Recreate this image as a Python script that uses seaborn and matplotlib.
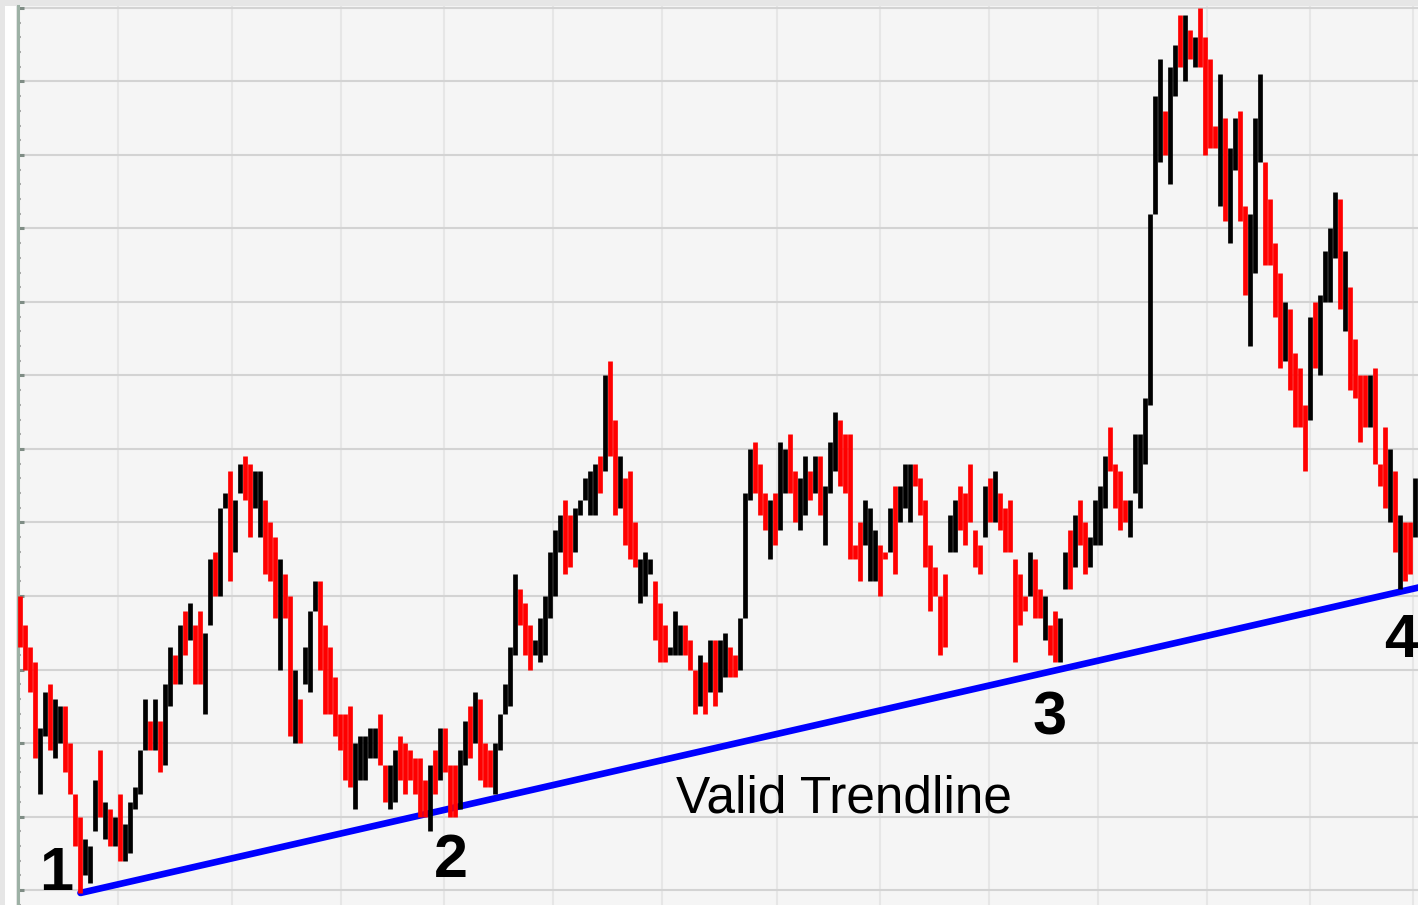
import matplotlib
matplotlib.use("Agg")
import matplotlib.pyplot as plt
from matplotlib.patches import Rectangle
from matplotlib.ticker import MultipleLocator
import seaborn as sns

# daily high / low of each bar (one bar per session)
highs = [
    140, 136, 133, 131, 122, 127, 128, 126, 125, 125,
    120, 113, 110, 107, 106, 115, 119, 112, 111, 110,
    113, 109, 112, 114, 119, 126, 123, 126, 123, 128,
    133, 132, 136, 138, 139, 136, 138, 135, 145, 146,
    152, 154, 157, 153, 158, 159, 158, 157, 157, 153,
    150, 148, 145, 143, 140, 130, 126, 133, 138, 142,
    142, 136, 133, 129, 124, 124, 125, 120, 121, 121,
    122, 122, 124, 117, 117, 119, 121, 120, 119, 118,
    118, 115, 117, 119, 122, 122, 117, 117, 119, 123,
    125, 127, 126, 120, 119, 120, 124, 128, 133, 143,
    141, 139, 136, 134, 137, 140, 146, 149, 151, 153,
    151, 152, 153, 156, 157, 158, 159, 170, 172, 164,
    159, 156, 157, 150, 145, 146, 145, 142, 139, 136,
    133, 138, 136, 136, 134, 130, 132, 131, 134, 134,
    134, 135, 133, 132, 137, 154, 160, 161, 158, 154,
    153, 154, 161, 160, 162, 157, 156, 159, 157, 159,
    159, 155, 161, 165, 164, 162, 162, 147, 150, 153,
    152, 149, 147, 146, 152, 155, 155, 158, 158, 158,
    156, 153, 147, 144, 140, 143, 151, 153, 155, 154,
    158, 149, 147, 155, 156, 157, 154, 152, 153, 145,
    143, 140, 146, 145, 141, 140, 136, 138, 137, 146,
    149, 151, 153, 150, 148, 153, 155, 159, 163, 158,
    157, 153, 153, 162, 162, 167, 192, 208, 213, 206,
    212, 215, 219, 219, 217, 216, 220, 216, 213, 204,
    211, 205, 201, 205, 206, 193, 192, 205, 211, 199,
    194, 188, 184, 180, 179, 173, 171, 166, 178, 180,
    181, 187, 190, 195, 194, 187, 182, 175, 170, 170,
    170, 171, 158, 163, 160, 157, 151, 150, 150, 156,
]
lows = [
    133, 130, 127, 118, 113, 121, 119, 118, 120, 116,
    113, 106, 99.6, 102, 101, 108, 110, 107, 106, 106,
    104, 104, 105, 111, 113, 119, 119, 119, 116, 117,
    125, 128, 128, 132, 134, 128, 128, 124, 136, 140,
    140, 152, 142, 146, 154, 153, 148, 152, 148, 143,
    142, 137, 130, 137, 121, 120, 120, 128, 127, 138,
    130, 124, 124, 121, 119, 115, 114, 111, 115, 115,
    118, 118, 117, 112, 111, 112, 115, 113, 115, 113,
    110, 110, 108, 113, 115, 116, 110, 110, 111, 117,
    118, 120, 115, 114, 114, 113, 119, 124, 125, 132,
    136, 132, 130, 132, 131, 132, 137, 140, 146, 143,
    144, 146, 151, 153, 151, 151, 154, 157, 159, 151,
    152, 147, 145, 144, 139, 140, 143, 134, 131, 131,
    132, 132, 132, 132, 130, 124, 125, 124, 127, 125,
    127, 129, 129, 129, 130, 137, 153, 154, 151, 149,
    145, 147, 149, 154, 154, 150, 149, 151, 153, 154,
    151, 147, 154, 157, 155, 154, 145, 145, 142, 147,
    142, 142, 140, 145, 146, 143, 150, 152, 150, 155,
    151, 144, 138, 140, 132, 133, 146, 146, 149, 147,
    150, 144, 143, 148, 150, 150, 149, 146, 146, 131,
    136, 138, 140, 137, 137, 134, 132, 131, 131, 141,
    141, 144, 147, 143, 144, 147, 147, 152, 157, 152,
    149, 150, 148, 154, 152, 158, 166, 192, 199, 200,
    196, 208, 212, 210, 213, 212, 212, 200, 201, 201,
    193, 191, 188, 198, 191, 181, 174, 184, 199, 185,
    185, 178, 171, 172, 168, 163, 163, 157, 164, 171,
    170, 180, 180, 186, 179, 176, 168, 167, 161, 163,
    163, 158, 155, 152, 150, 146, 141, 142, 143, 148,
]
# r = down bar, k = up bar
bar_colors = (
    "rrrrkkrkkr" "rrrkkkrkrk" "rkkkkkrkrk" "krkrkrrkkr" "kkrkkrrkkr"
    "rrkrrkrkkk" "rrrrrrrkkk" "kkrrkkrrrr" "rrkrkrrrkk" "rkrrrkkkkk"
    "rrrkkkkkkr" "rkkkkkrkrr" "krrrkkkrrr" "kkkrrrkrkr" "kkrrkkkrrr"
    "krkkrrkkrk" "rkkkrrrrrk" "kkrrkrkkkr" "rrrrrrkkrr" "rrrkrkrrrr"
    "rrkrrkrrkk" "rkrrkkkkrr" "rrkkkkkkkr" "kkrkrkrrrr" "krkkrrkkkr"
    "rrrkrrrrkr" "kkkkrkrrrr" "krrrkrkrrk"
)

# trendline through the lows 1, 2, 3, 4
trend_x = [12, 280]
trend_y = [99.6, 141.2]

# bar index where each month starts (vertical grid)
month_starts = [19.6, 42.4, 64.2, 84.8, 106.6, 128.4, 151.4, 172, 193.8,
                215.6, 237.4, 258, 278.6]

point_labels = ["1", "2", "3", "4"]
point_x = [7.2, 86.2, 205.8, 276.2]
point_y = [100, 101.8, 121.1, 131.7]

sns.set_style("whitegrid")
plt.rcParams["font.family"] = ["Liberation Sans", "DejaVu Sans"]

W, H = 1418, 905
fig = plt.figure(figsize=(W / 100, H / 100), dpi=100, facecolor="#e6e6e6")
fig.patches.append(Rectangle((5 / W, 0), 11 / W, 899 / H, transform=fig.transFigure,
                             facecolor="white", edgecolor="none", zorder=0))
ax = fig.add_axes([17.5 / W, 0, 1 - 17.5 / W, 899 / H])
ax.set_facecolor("#f5f5f5")

# grid
ax.set_yticks(range(100, 221, 10))
ax.yaxis.set_minor_locator(MultipleLocator(2))
ax.set_xticks(month_starts)
ax.grid(axis="y", which="major", color="#d3d3d3", linewidth=1.5)
ax.grid(axis="y", which="minor", visible=False)
ax.grid(axis="x", color="#e6e6e6", linewidth=1.5)
ax.set_axisbelow(True)
ax.tick_params(labelleft=False, labelbottom=False, bottom=False)
ax.tick_params(axis="y", which="major", direction="in", left=True,
               length=4.3, width=2.2, color="#7f8c85")
ax.tick_params(axis="y", which="minor", direction="in", left=True,
               length=2.2, width=1.5, color="#aaaaaa")
for side in ["top", "right", "bottom"]:
    ax.spines[side].set_visible(False)
ax.spines["left"].set_color("#9db1a5")
ax.spines["left"].set_linewidth(2.2)

# trendline
sns.lineplot(x=trend_x, y=trend_y, color="#0000ff", linewidth=4.8, ax=ax, zorder=2)

# price bars
cmap = {"r": "#ff0000", "k": "#000000"}
ax.vlines(range(len(highs)), lows, highs, colors=[cmap[c] for c in bar_colors],
          linewidth=3.4, zorder=3)

for lab, x, y in zip(point_labels, point_x, point_y):
    ax.text(x, y, lab, fontsize=44, fontweight="bold", color="black",
            ha="center", va="baseline", zorder=4)
ax.text(131.2, 110.6, "Valid Trendline", fontsize=37, color="black",
        ha="left", va="baseline", zorder=4)

ax.set_xlim(-0.6, 279.6)
ax.set_ylim(97.96, 220.27)

fig.savefig("out.png", dpi=100, facecolor=fig.get_facecolor())
